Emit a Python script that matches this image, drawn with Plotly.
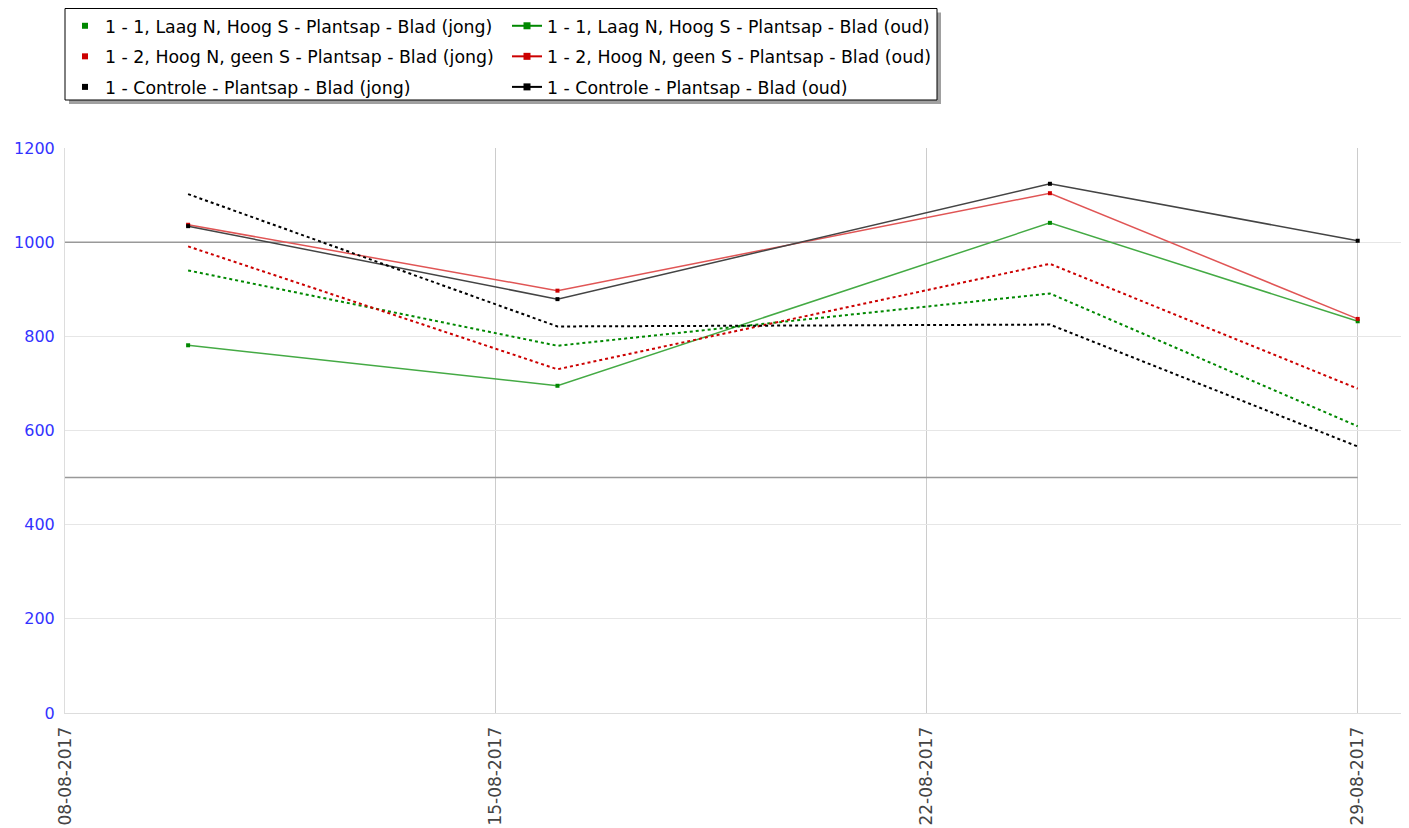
import plotly.graph_objects as go

dates = ["2017-08-10", "2017-08-16", "2017-08-24", "2017-08-29"]

names = [
    "1 - 1, Laag N, Hoog S - Plantsap - Blad (jong)",
    "1 - 1, Laag N, Hoog S - Plantsap - Blad (oud)",
    "1 - 2, Hoog N, geen S - Plantsap - Blad (jong)",
    "1 - 2, Hoog N, geen S - Plantsap - Blad (oud)",
    "1 - Controle - Plantsap - Blad (jong)",
    "1 - Controle - Plantsap - Blad (oud)",
]

laag_jong = [781, 695, 1041, 832]
laag_oud = [940, 780, 891, 609]
hoog_jong = [1037, 897, 1104, 837]
hoog_oud = [991, 730, 954, 689]
controle_jong = [1034, 879, 1124, 1003]
controle_oud = [1102, 821, 825, 566]

threshold_dates = ["2017-08-08", "2017-08-29"]
threshold_high = 1000
threshold_low = 500

x_ticks = ["2017-08-08", "2017-08-15", "2017-08-22", "2017-08-29"]
y_ticks = [0, 200, 400, 600, 800, 1000, 1200]

series = [
    (names[0], laag_jong, "jong", "#44aa44", "#008800"),
    (names[1], laag_oud, "oud", "#008800", "#008800"),
    (names[2], hoog_jong, "jong", "#e05555", "#cc0000"),
    (names[3], hoog_oud, "oud", "#cc0000", "#cc0000"),
    (names[4], controle_jong, "jong", "#444444", "#000000"),
    (names[5], controle_oud, "oud", "#000000", "#000000"),
]

fig = go.Figure()

for i, (name, vals, kind, lc, mc) in enumerate(series):
    if kind == "jong":
        fig.add_trace(go.Scatter(
            x=dates, y=vals, mode="lines+markers", name=name, showlegend=False,
            line=dict(color=lc, width=1.5),
            marker=dict(symbol="square", size=4, color=mc),
        ))
        fig.add_trace(go.Scatter(
            x=[None], y=[None], mode="markers", name=name,
            legend="legend", legendgroup="g%d" % i,
            marker=dict(symbol="square", size=6, color=mc),
        ))
    else:
        fig.add_trace(go.Scatter(
            x=dates, y=vals, mode="lines", name=name, showlegend=False,
            line=dict(color=lc, width=2, dash="3px,3px"),
        ))
        fig.add_trace(go.Scatter(
            x=[None], y=[None], mode="lines+markers", name=name,
            legend="legend2", legendgroup="g%d" % i,
            line=dict(color=lc, width=2),
            marker=dict(symbol="square", size=7, color=mc),
        ))

for t in (threshold_high, threshold_low):
    fig.add_shape(type="line", xref="x", yref="y",
                  x0=threshold_dates[0], x1=threshold_dates[1], y0=t, y1=t,
                  line=dict(color="#999999", width=1.5), layer="between")

# page offset of the figure inside the browser (body margin)
OFF = 8
W, H = 1409 - OFF, 828 - OFF
ml, mr, mt, mb = 65 - OFF, 0, 148 - OFF, 828 - 713 - OFF + 8
pw = W - ml - mr
ph = H - mt - mb


def px(xp):
    return (xp - OFF - ml) / pw


def py(yp):
    return (H - mb - (yp - OFF)) / ph


# legend box (page pixels) with shadow
bx0, bx1, by0, by1 = 65, 937, 8.5, 100
fig.add_shape(type="rect", xref="paper", yref="paper",
              x0=px(bx0 + 4), x1=px(bx1 + 4), y0=py(by1 + 4), y1=py(by0 + 4),
              fillcolor="#a0a0a0", line=dict(width=0), layer="above")
fig.add_shape(type="rect", xref="paper", yref="paper",
              x0=px(bx0), x1=px(bx1), y0=py(by1), y1=py(by0),
              fillcolor="white", line=dict(color="#000000", width=1), layer="above")

leg_common = dict(
    orientation="v", yanchor="top", xanchor="left",
    bgcolor="rgba(0,0,0,0)", borderwidth=0,
    font=dict(family="DejaVu Sans", size=17.35, color="#000000"),
    traceorder="grouped", tracegroupgap=5, itemsizing="trace",
)

fig.update_layout(
    width=W, height=H,
    margin=dict(l=ml, r=mr, t=mt, b=mb, pad=0),
    paper_bgcolor="white", plot_bgcolor="white",
    font=dict(family="DejaVu Sans", size=16, color="#222222"),
    showlegend=True,
    legend=dict(x=px(65), y=py(8), **leg_common),
    legend2=dict(x=px(507), y=py(8), **leg_common),
    xaxis=dict(
        type="date", range=["2017-08-08", "2017-08-29 20:00"],
        tickvals=x_ticks, tickformat="%d-%m-%Y", tickangle=-90,
        showgrid=True, gridcolor="#cccccc", gridwidth=1,
        showline=True, linecolor="#dddddd", linewidth=1,
        ticks="", ticklabelstandoff=6,
        tickfont=dict(family="DejaVu Sans", size=17, color="#444444"),
        zeroline=False,
    ),
    yaxis=dict(
        range=[0, 1200], tickvals=y_ticks,
        showgrid=True, gridcolor="#e6e6e6", gridwidth=1,
        showline=True, linecolor="#dddddd", linewidth=1,
        ticks="", ticklabelstandoff=6,
        tickfont=dict(family="DejaVu Sans", size=16, color="#3333ff"),
        zeroline=False,
    ),
)

fig.write_html("out.html")
